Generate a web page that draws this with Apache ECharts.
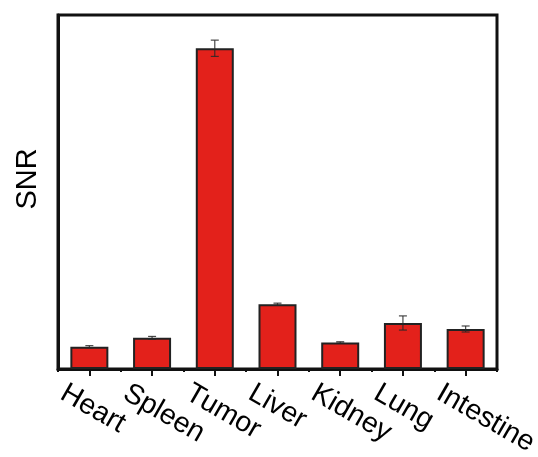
<!DOCTYPE html>
<html>
<head>
<meta charset="utf-8">
<script src="https://cdn.jsdelivr.net/npm/echarts@6/dist/echarts.min.js"></script>
<style>
  html, body { margin: 0; padding: 0; background: #ffffff; }
  #chart { width: 538px; height: 457px; }
</style>
</head>
<body>
<div id="chart"></div>
<script>
// Organ signal-to-noise ratios (mean and error)
const organs = ['Heart', 'Spleen', 'Tumor', 'Liver', 'Kidney', 'Lung', 'Intestine'];
const snrMean = [6.3, 8.8, 90.6, 18.3, 7.5, 13.0, 11.3];
const snrErr = [0.3, 0.4, 2.3, 0.3, 0.2, 2.0, 0.85];
const yMax = 100;

const FONT = '"Liberation Sans", Arial, Helvetica, sans-serif';
const chart = echarts.init(document.getElementById('chart'), null, { renderer: 'canvas' });

const errData = organs.map((name, i) => [i, snrMean[i], snrErr[i]]);

chart.setOption({
  backgroundColor: '#ffffff',
  animation: false,
  grid: {
    left: 58, top: 15, right: 41, bottom: 88,
    containLabel: false,
    outerBoundsMode: 'none',
    show: true, borderColor: '#111111', borderWidth: 3, backgroundColor: 'transparent'
  },
  xAxis: [
    {
      type: 'category',
      data: organs,
      position: 'bottom',
      axisLine: { show: true, lineStyle: { color: '#111111', width: 3 } },
      axisTick: { show: true, alignWithLabel: true, length: 7, lineStyle: { color: '#111111', width: 2 } },
      axisLabel: {
        interval: 0,
        rotate: -30,
        align: 'left',
        verticalAlign: 'top',
        margin: 6,
        padding: [13, 0, 0, -15],
        fontSize: 28.5,
        color: '#000000',
        fontFamily: FONT
      },
      splitLine: { show: false }
    },
    {
      // boundary ticks between categories
      type: 'category',
      data: organs,
      position: 'bottom',
      axisLine: { show: false },
      axisTick: { show: true, alignWithLabel: false, length: 3, lineStyle: { color: '#111111', width: 2 } },
      axisLabel: { show: false },
      splitLine: { show: false }
    }
  ],
  yAxis: {
    type: 'value',
    min: 0,
    max: yMax,
    name: 'SNR',
    nameLocation: 'middle',
    nameRotate: 90,
    nameGap: 16,
    nameTextStyle: { fontSize: 29, color: '#000000', fontFamily: FONT, padding: [0, 0, 0, 26] },
    axisLine: { show: true, lineStyle: { color: '#111111', width: 3 } },
    axisTick: { show: false },
    axisLabel: { show: false },
    splitLine: { show: false }
  },
  series: [
    {
      type: 'bar',
      data: snrMean,
      barWidth: 38,
      itemStyle: { color: '#E3211B', borderColor: '#222222', borderWidth: 2 },
      z: 2
    },
    {
      type: 'custom',
      data: errData,
      encode: { x: 0, y: 1 },
      z: 3,
      renderItem: function (params, api) {
        const i = api.value(0);
        const m = api.value(1);
        const e = api.value(2);
        const hi = api.coord([i, m + e]);
        const lo = api.coord([i, m - e]);
        const half = 4;
        const st = { stroke: 'rgba(40,40,40,0.85)', lineWidth: 1.2 };
        return {
          type: 'group',
          children: [
            { type: 'line', shape: { x1: hi[0], y1: hi[1], x2: lo[0], y2: lo[1] }, style: st },
            { type: 'line', shape: { x1: hi[0] - half, y1: hi[1], x2: hi[0] + half, y2: hi[1] }, style: st },
            { type: 'line', shape: { x1: lo[0] - half, y1: lo[1], x2: lo[0] + half, y2: lo[1] }, style: st }
          ]
        };
      }
    }
  ]
});
</script>
</body>
</html>
